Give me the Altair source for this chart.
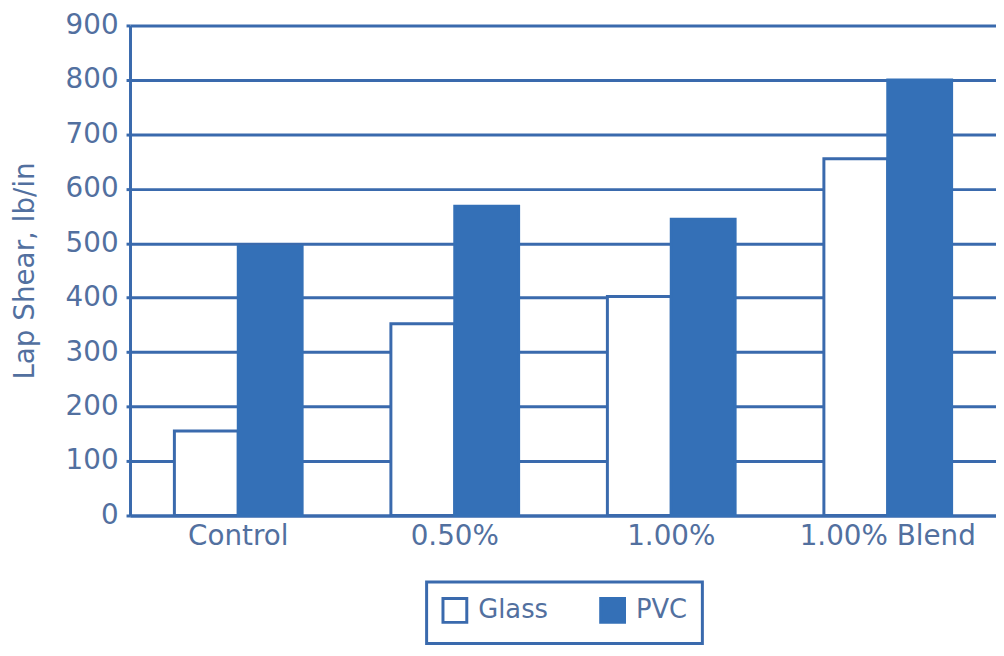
import altair as alt
import pandas as pd

categories = ["Control", "0.50%", "1.00%", "1.00% Blend"]
series = ["Glass", "PVC"]
glass = [155, 352, 402, 655]
pvc = [494, 568, 544, 800]
y_ticks = [0, 100, 200, 300, 400, 500, 600, 700, 800, 900]

rows = []
for c, g, p in zip(categories, glass, pvc):
    rows.append({"Category": c, "Series": "Glass", "Value": g})
    rows.append({"Category": c, "Series": "PVC", "Value": p})
df = pd.DataFrame(rows)

BLUE = "#3470b7"
LINE = "#3a6aad"
TEXT = "#52709f"
FONT = "DejaVu Sans"

chart = alt.Chart(df).mark_bar(strokeWidth=3).encode(
    x=alt.X("Category:N", sort=categories,
            scale=alt.Scale(paddingInner=0.41, paddingOuter=0.205),
            axis=alt.Axis(title=None, labelAngle=0, ticks=False, labelPadding=7,
                          labelFontSize=28, labelColor=TEXT, labelFont=FONT,
                          domainColor=LINE, domainWidth=3, grid=False)),
    xOffset=alt.XOffset("Series:N", sort=series, scale=alt.Scale(paddingInner=0, paddingOuter=0)),
    y=alt.Y("Value:Q",
            scale=alt.Scale(domain=[0, 900], nice=False),
            axis=alt.Axis(title="Lap Shear, lb/in", values=y_ticks, titleFontSize=28,
                          titleFont=FONT, titleColor=TEXT, titleFontWeight="normal",
                          titlePadding=26, labelFontSize=28, labelFont=FONT, labelColor=TEXT,
                          labelPadding=8, tickSize=4, tickWidth=3, tickColor=LINE,
                          domainColor=LINE, domainWidth=3, grid=True, gridColor=LINE,
                          gridWidth=3)),
    fill=alt.Fill("Series:N", sort=series,
                  scale=alt.Scale(domain=series, range=["#ffffff", BLUE]),
                  legend=alt.Legend(title=None, orient="none", legendX=299, legendY=561,
                                    direction="horizontal", symbolType="square",
                                    symbolSize=576, symbolStrokeWidth=3,
                                    symbolStrokeColor=LINE,
                                    labelFontSize=26, labelFont=FONT, labelColor=TEXT,
                                    labelOffset=10, columnPadding=46, padding=15,
                                    strokeColor=LINE)),
    stroke=alt.Stroke("Series:N", sort=series,
                      scale=alt.Scale(domain=series, range=[LINE, BLUE]),
                      legend=None),
).properties(
    width=873, height=494,
    autosize=alt.AutoSizeParams(type="none"),
    padding={"left": 123, "top": 15, "right": 0, "bottom": 131},
).configure_view(stroke=None).configure_legend(strokeWidth=3)

chart.save("out.html", embed_options={"renderer": "svg", "actions": False})
